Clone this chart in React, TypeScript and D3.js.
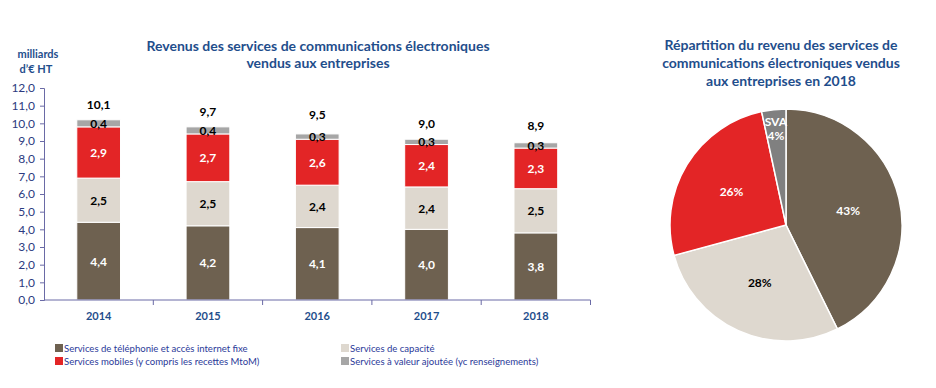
import { useEffect, useRef } from "react"
import * as d3 from "d3"

// data
const years = ["2014", "2015", "2016", "2017", "2018"]
const fixe = [4.4, 4.2, 4.1, 4.0, 3.8]
const capacite = [2.5, 2.5, 2.4, 2.4, 2.5]
const mobiles = [2.9, 2.7, 2.6, 2.4, 2.3]
const sva = [0.4, 0.4, 0.3, 0.3, 0.3]
const totals = [10.1, 9.7, 9.5, 9.0, 8.9]
const yTicks = [0, 1, 2, 3, 4, 5, 6, 7, 8, 9, 10, 11, 12]

const seriesNames = [
  "Services de téléphonie et accès internet fixe",
  "Services de capacité",
  "Services mobiles (y compris les recettes MtoM)",
  "Services à valeur ajoutée (yc renseignements)",
]
const pieValues = [3.8, 2.5, 2.3, 0.3]
const pieLabels = ["43%", "28%", "26%", "4%"]

const BLUE = "#1F4E8C"
const AXIS = "#6A6AA6"
const FONT = "Lato, 'Open Sans', sans-serif"
const barColors = ["#6E6150", "#DED8CF", "#E32526", "#A6A6A6"]
const barText = ["#ffffff", "#000000", "#ffffff", "#000000"]
const pieColors = ["#6E6150", "#DED8CF", "#E32526", "#808080"]
const pieText = ["#ffffff", "#000000", "#ffffff", "#ffffff"]

const fmt = (v: number) => d3.format(".1f")(v).replace(".", ",")

const App = () => {
  const svgRef = useRef<SVGSVGElement>(null)

  useEffect(() => {
    if (!svgRef.current) return
    const svg = d3.select(svgRef.current)
    svg.selectAll("*").remove()
    svg.style("font-family", FONT)

    // ---------- stacked bars ----------
    const x = d3.scaleBand().domain(years).range([44, 590.5]).padding(0)
    const y = d3.scaleLinear().domain([0, 12]).range([300, 88])
    const barW = x.bandwidth() * 0.4

    // titles
    svg.append("text")
      .attr("x", 318).attr("y", 51)
      .attr("text-anchor", "middle").attr("font-size", 14).attr("font-weight", 700)
      .attr("fill", BLUE)
      .text("Revenus des services de communications électroniques")
    svg.append("text")
      .attr("x", 318).attr("y", 68)
      .attr("text-anchor", "middle").attr("font-size", 14).attr("font-weight", 700)
      .attr("fill", BLUE)
      .text("vendus aux entreprises")

    svg.append("text")
      .attr("x", 38).attr("y", 58)
      .attr("text-anchor", "middle").attr("font-size", 11).attr("font-weight", 700)
      .attr("fill", BLUE).text("milliards")
    svg.append("text")
      .attr("x", 36).attr("y", 73)
      .attr("text-anchor", "middle").attr("font-size", 11).attr("font-weight", 700)
      .attr("fill", BLUE).text("d’€ HT")

    // y axis
    const yAxis = svg.append("g")
      .attr("transform", "translate(44,0)")
      .call(d3.axisLeft(y).tickValues(yTicks).tickSize(4).tickFormat((d) => fmt(d as number)))
    yAxis.select(".domain").attr("stroke", AXIS)
    yAxis.selectAll(".tick line").attr("stroke", AXIS)
    yAxis.selectAll("text")
      .attr("font-size", 12).attr("fill", "#2B3A80").attr("font-family", FONT).attr("x", -9)

    // stacks
    const series = [fixe, capacite, mobiles, sva]
    years.forEach((yr, i) => {
      let base = 0
      const cx = (x(yr) || 0) + x.bandwidth() / 2
      series.forEach((s, k) => {
        const v = s[i]
        svg.append("rect")
          .attr("x", cx - barW / 2)
          .attr("y", y(base + v))
          .attr("width", barW)
          .attr("height", y(base) - y(base + v))
          .attr("fill", barColors[k])
          .attr("stroke", "#ffffff")
          .attr("stroke-width", 1)
        svg.append("text")
          .attr("x", cx)
          .attr("y", y(base + v / 2) + 4.5)
          .attr("text-anchor", "middle")
          .attr("font-size", 12).attr("font-weight", 700)
          .attr("fill", barText[k])
          .text(fmt(v))
        base += v
      })
      svg.append("text")
        .attr("x", cx)
        .attr("y", y(totals[i]) - 13)
        .attr("text-anchor", "middle")
        .attr("font-size", 12).attr("font-weight", 700)
        .attr("fill", "#000000")
        .text(fmt(totals[i]))
    })

    // x axis
    const xAxis = svg.append("g").attr("transform", "translate(0,300)")
    xAxis.append("line").attr("x1", 44).attr("x2", 590.5).attr("stroke", AXIS)
    years.forEach((yr, i) => {
      const bx = x(yr) || 0
      if (i > 0) xAxis.append("line").attr("x1", bx).attr("x2", bx).attr("y1", 0).attr("y2", 5).attr("stroke", AXIS)
      xAxis.append("text")
        .attr("x", bx + x.bandwidth() / 2).attr("y", 20)
        .attr("text-anchor", "middle").attr("font-size", 11).attr("font-weight", 700)
        .attr("fill", BLUE).text(yr)
    })
    xAxis.append("line").attr("x1", 590.5).attr("x2", 590.5).attr("y1", 0).attr("y2", 5).attr("stroke", AXIS)

    // legend (font size fitted so the first label is ~184px wide, as in the reference)
    const legendPos = [
      [55, 348], [341, 348], [55, 361], [341, 361],
    ]
    const legendTexts = seriesNames.map((name, k) => {
      const [lx, ly] = legendPos[k]
      svg.append("rect").attr("x", lx).attr("y", ly - 4).attr("width", 8).attr("height", 8).attr("fill", barColors[k])
      return svg.append("text")
        .attr("x", lx + 9).attr("y", ly + 4)
        .attr("font-size", 12).attr("fill", "#2B3A99")
        .text(name)
    })
    const len = (legendTexts[0].node() as SVGTextElement).getComputedTextLength()
    const fs = len > 0 ? (12 * 184) / len : 11
    legendTexts.forEach((t) => t.attr("font-size", fs))

    // ---------- pie ----------
    const pcx = 786
    const pcy = 225
    const r = 116
    const pieTitle = [
      "Répartition du revenu des services de",
      "communications électroniques vendus",
      "aux entreprises en 2018",
    ]
    pieTitle.forEach((t, i) => {
      svg.append("text")
        .attr("x", 781).attr("y", 50 + i * 18)
        .attr("text-anchor", "middle").attr("font-size", 14).attr("font-weight", 700)
        .attr("fill", BLUE).text(t)
    })

    const pie = d3.pie<number>().sort(null)(pieValues)
    const arc = d3.arc<d3.PieArcDatum<number>>().innerRadius(0).outerRadius(r)
    const g = svg.append("g").attr("transform", `translate(${pcx},${pcy})`)
    g.selectAll("path")
      .data(pie)
      .enter()
      .append("path")
      .attr("d", arc)
      .attr("fill", (_d, i) => pieColors[i])
      .attr("stroke", "#ffffff")
      .attr("stroke-width", 1.5)

    pie.forEach((d, i) => {
      const a = (d.startAngle + d.endAngle) / 2
      const rr = i === 3 ? r * 0.83 : r * 0.55
      const lx = Math.sin(a) * rr
      const ly = -Math.cos(a) * rr
      if (i === 3) {
        g.append("text")
          .attr("x", lx).attr("y", ly - 3)
          .attr("text-anchor", "middle").attr("font-size", 12).attr("font-weight", 700)
          .attr("fill", pieText[i]).text("SVA")
        g.append("text")
          .attr("x", lx).attr("y", ly + 11)
          .attr("text-anchor", "middle").attr("font-size", 12).attr("font-weight", 700)
          .attr("fill", pieText[i]).text(pieLabels[i])
      } else {
        g.append("text")
          .attr("x", lx).attr("y", ly + 4)
          .attr("text-anchor", "middle").attr("font-size", 12).attr("font-weight", 700)
          .attr("fill", pieText[i]).text(pieLabels[i])
      }
    })
  }, [])

  return (
    <svg ref={svgRef} width={936} height={388} style={{ position: "absolute", left: 0, top: 0, background: "#ffffff" }}></svg>
  )
}

export default App
